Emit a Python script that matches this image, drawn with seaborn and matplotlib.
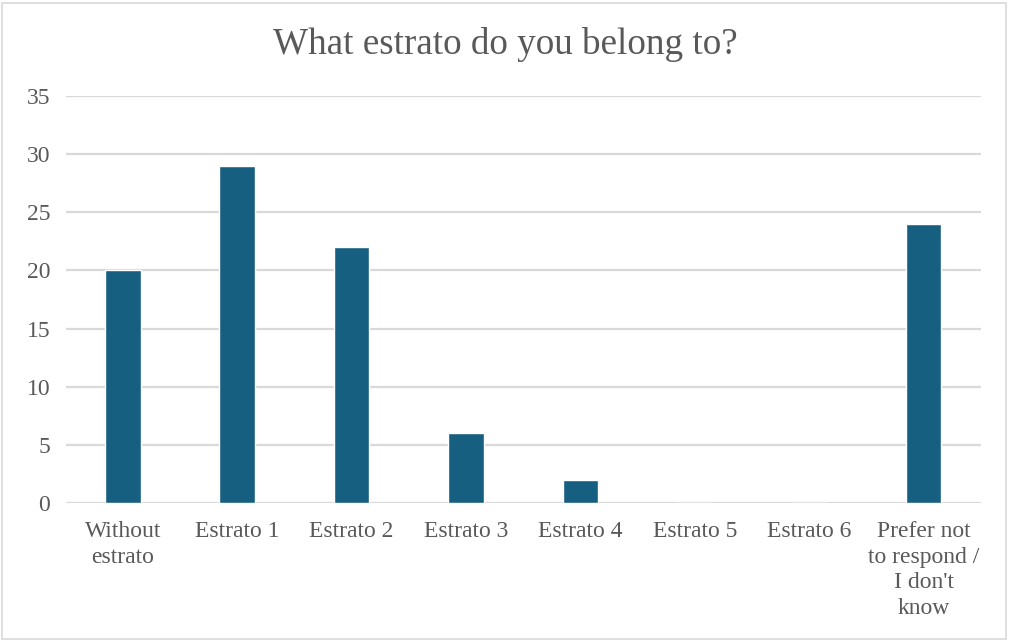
import matplotlib
matplotlib.use("Agg")
import matplotlib.pyplot as plt
import seaborn as sns
import pandas as pd

categories = ["Without\nestrato", "Estrato 1", "Estrato 2", "Estrato 3", "Estrato 4",
              "Estrato 5", "Estrato 6", "Prefer not\nto respond /\nI don't\nknow"]
counts = [20, 29, 22, 6, 2, 0, 0, 24]
y_ticks = [0, 5, 10, 15, 20, 25, 30, 35]
title = "What estrato do you belong to?"

sns.set_theme(style="white")
plt.rcParams["font.family"] = ["Liberation Serif", "DejaVu Serif"]

text_color = "#595959"
bar_color = "#175F80"
grid_color = "#D9D9D9"

df = pd.DataFrame({"category": categories, "count": counts})

fig = plt.figure(figsize=(10.1, 6.4), dpi=100)
ax = fig.add_axes([0.065, 0.214, 0.906, 0.636])

sns.barplot(data=df, x="category", y="count", color=bar_color, width=0.31,
            saturation=1, ax=ax, zorder=3)

ax.set_ylim(0, 35)
ax.set_yticks(y_ticks)
ax.yaxis.grid(True, color=grid_color, linewidth=1.6, zorder=0)
ax.set_axisbelow(True)
for s in ax.spines.values():
    s.set_visible(False)
ax.set_xlabel("")
ax.set_ylabel("")
ax.tick_params(axis="y", length=0, pad=11, labelsize=17, labelcolor=text_color)
ax.tick_params(axis="x", length=0, pad=13, labelsize=17, labelcolor=text_color)
for lbl in ax.get_xticklabels():
    lbl.set_linespacing(1.28)
for lbl in ax.get_yticklabels():
    lbl.set_horizontalalignment("right")

fig.text(0.5, 0.93, title, ha="center", va="center", fontsize=26.7, color=text_color)

# light frame around the whole chart
fig.patches.append(plt.Rectangle((0.002, 0.002), 0.994, 0.994, transform=fig.transFigure,
                                 fill=False, edgecolor="#D9D9D9", linewidth=1.2))

fig.savefig("out.png", dpi=100, facecolor="white")
